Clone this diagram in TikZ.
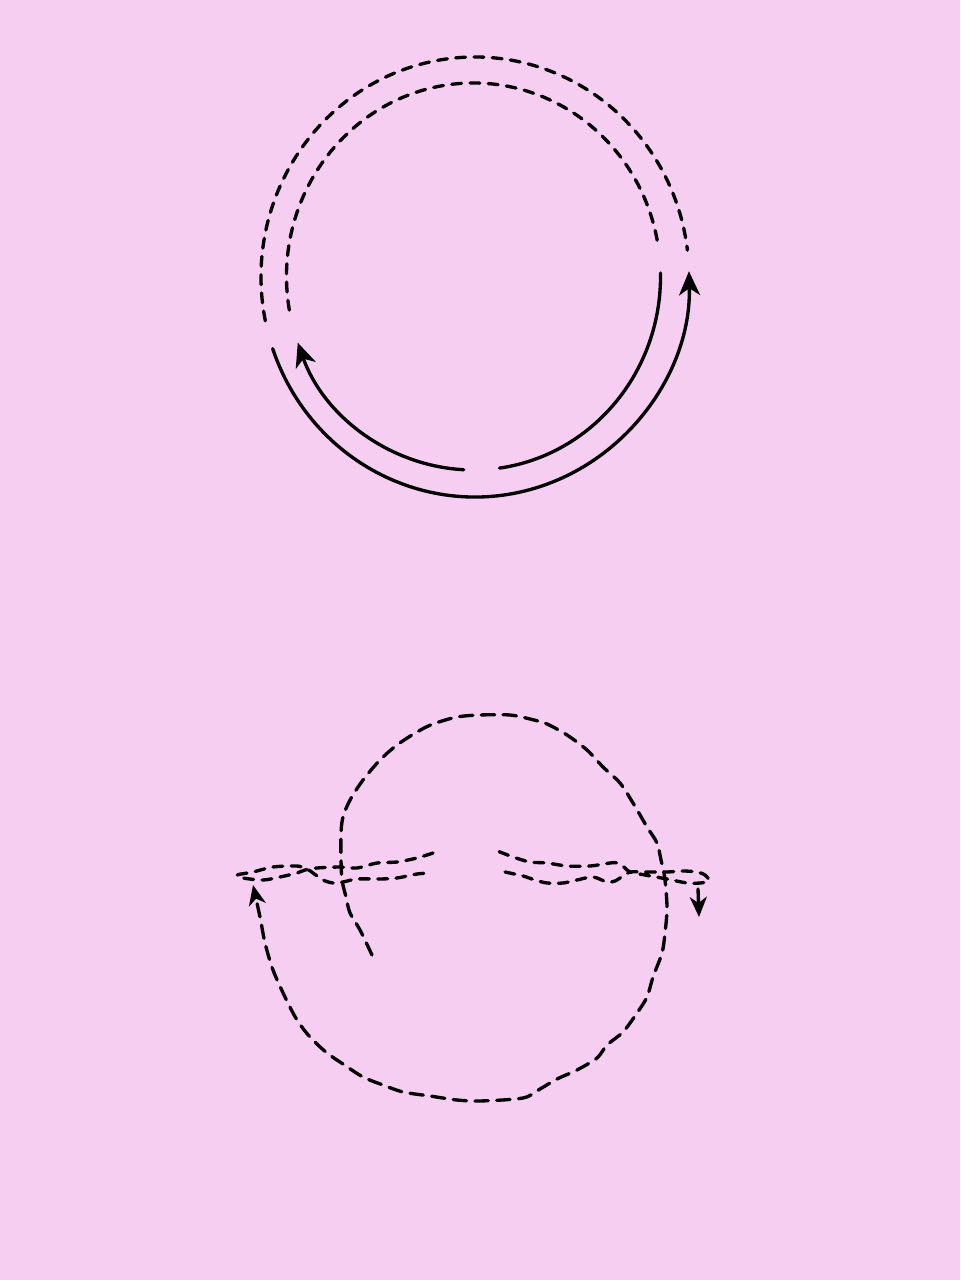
\documentclass[tikz,border=0pt]{standalone}
\usetikzlibrary{arrows.meta}
\definecolor{bg}{RGB}{246,206,242}
\begin{document}
\begin{tikzpicture}[x=0.01cm,y=-0.01cm,
  ink/.style={line width=0.95pt,line cap=round,line join=round,black},
  dsh/.style={ink,dash pattern=on 2.8pt off 2.4pt},
  dshb/.style={ink,dash pattern=on 3.8pt off 2.4pt},
  tip/.style={-{Stealth[length=2.4mm,width=2.1mm,inset=0.7mm]}},
  smallTip/.style={-{Stealth[length=2.0mm,width=1.7mm,inset=0.6mm]}}]
\fill[bg] (0,0) rectangle (960,1280);
\useasboundingbox (0,0) rectangle (960,1280);
% ---------- top figure ----------
\coordinate (co) at (475,277);
\coordinate (ci) at (473.5,276.5);
% outer dashed
\draw[dsh] (co) ++(168.5:214 and 220) arc[start angle=168.5,end angle=353,x radius=214,y radius=220];
% outer solid with arrow
\draw[ink,tip] (co) ++(161:214 and 220) arc[start angle=161,end angle=-1.5,x radius=214,y radius=220];
% inner dashed
\draw[dsh] (ci) ++(170:187 and 193.5) arc[start angle=170,end angle=351.6,x radius=187,y radius=193.5];
% inner solid right
\draw[ink] (ci) ++(-1:187 and 193.5) arc[start angle=-1,end angle=82,x radius=187,y radius=193.5];
% inner solid left with arrow
\draw[ink,tip] (ci) ++(93:187 and 193.5) arc[start angle=93,end angle=160,x radius=187,y radius=193.5];
% ---------- bottom figure ----------
\draw[dshb,smallTip] plot[smooth,tension=0.5] coordinates {
 (372,955) (360,930) (350,913) (346,897) (342,880) (341,860) (341,833) (343,817)
 (350,800) (363,780) (380,760) (397,745) (417,732) (433,724) (457,717) (480,715)
 (510,715) (530,719) (547,724) (567,735) (587,750) (603,767) (620,783) (633,803)
 (647,827) (657,843) (661,860) (664,873) (666,890) (667,910) (665,933) (662,953)
 (653,977) (647,997) (637,1013) (623,1032) (607,1045) (597,1058) (577,1070)
 (557,1079) (540,1089) (523,1098) (480,1101) (457,1100) (430,1096) (403,1092)
 (383,1085) (363,1077) (343,1064) (327,1053) (310,1037) (297,1020) (285,997)
 (273,970) (265,943) (260,917) (253,885)};
% left band (twisted loop)
\draw[dsh] plot[smooth,tension=0.5] coordinates {
 (433,853) (417,858) (397,862) (377,863) (357,868) (340,867) (317,868) (305,870)
 (297,873) (280,877) (263,880) (243,878) (237,875) (253,872) (273,867) (297,866)
 (307,869) (313,873) (323,880) (333,883) (343,882) (357,879) (380,879) (397,878)
 (417,874) (430,873)};
% right band (twisted loop)
\draw[dsh] plot[smooth,tension=0.5] coordinates {
 (505,872) (523,876) (535,880) (547,883) (563,883) (577,880) (593,877) (607,882)
 (615,881) (623,876) (630,872) (645,872) (667,872) (683,871) (697,872) (705,875)
 (709,881) (700,883) (687,883) (667,879) (645,875) (630,872) (625,868) (618,863)
 (610,863) (590,866) (567,866) (547,863) (530,862) (513,857) (495,850)};
% small down arrow at right
\coordinate (da1) at (698,889);
\coordinate (da2) at (699,917);
\draw[ink,smallTip] (da1) -- (da2);
\end{tikzpicture}
\end{document}
